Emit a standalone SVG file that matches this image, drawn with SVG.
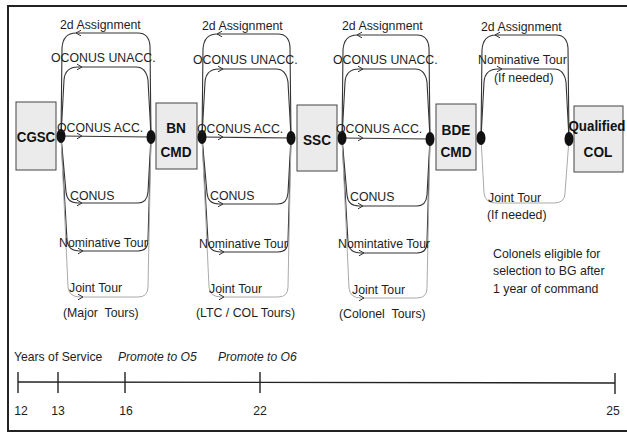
<svg xmlns="http://www.w3.org/2000/svg" width="627" height="433" viewBox="0 0 627 433">
<style>
.t{font-family:"Liberation Sans",Arial,sans-serif;font-size:13.4px;fill:#1e1e1e}
.n{font-family:"Liberation Sans",Arial,sans-serif;font-size:12.2px;fill:#1e1e1e}
.ti{font-family:"Liberation Sans",Arial,sans-serif;font-size:12.1px;fill:#1e1e1e;font-style:italic}
.b{font-family:"Liberation Sans",Arial,sans-serif;font-size:15.5px;font-weight:bold;fill:#111;text-anchor:middle}
.box{fill:#ebebeb;stroke:#444;stroke-width:1}
.ln{fill:none;stroke:#333;stroke-width:1.1}
.lg{fill:none;stroke:#aaa;stroke-width:1}
.dot{fill:#111}
.ax{fill:none;stroke:#222;stroke-width:1.4}
</style>
<defs>
<path id="ar" d="M-3,-2.8 L2,0 L-3,2.8" fill="none" stroke="#333" stroke-width="1"/>
</defs>
<rect x="8" y="6" width="630" height="425" fill="#fff" stroke="#222" stroke-width="2"/>

<g id="connectors">
<!-- section 1 -->
<path class="ln" d="M61,136 L62,48 Q63,33 76,33 L138,33 Q149,33 150,46 L151,136"/>
<path class="ln" d="M61,136 L64,80 Q65,67 78,67 L136,67 Q146,67 148,80 L151,136"/>
<path class="ln" d="M61,136 L151,137"/>
<path class="ln" d="M61,136 L66,192 Q67,203 78,203 L138,203 Q147,203 148,192 L151,137"/>
<path class="ln" d="M61,136 L67,240 Q68,251 80,251 L138,251 Q148,251 148,240 L151,137"/>
<path class="lg" d="M61,136 L68,287 Q69,297 80,297 L138,297 Q148,297 148,287 L151,137"/>
<use href="#ar" transform="translate(78,33) rotate(180)"/>
<use href="#ar" transform="translate(80,67)"/>
<use href="#ar" transform="translate(80,136)"/>
<use href="#ar" transform="translate(80,203)"/>
<use href="#ar" transform="translate(81,251)"/>
<use href="#ar" transform="translate(81,297)"/>
<!-- section 2 -->
<path class="ln" d="M202,137 L203,49 Q204,34 217,34 L278,34 Q289,34 290,47 L291,137"/>
<path class="ln" d="M202,137 L205,82 Q206,69 219,69 L276,69 Q286,69 288,82 L291,137"/>
<path class="ln" d="M202,137 L291,138"/>
<path class="ln" d="M202,137 L207,193 Q208,204 219,204 L278,204 Q287,204 288,193 L291,138"/>
<path class="ln" d="M202,137 L208,241 Q209,252 221,252 L278,252 Q288,252 288,241 L291,138"/>
<path class="lg" d="M202,137 L209,287 Q210,297 221,297 L278,297 Q288,297 288,287 L291,138"/>
<use href="#ar" transform="translate(219,34) rotate(180)"/>
<use href="#ar" transform="translate(221,69)"/>
<use href="#ar" transform="translate(221,137)"/>
<use href="#ar" transform="translate(221,204)"/>
<use href="#ar" transform="translate(222,252)"/>
<use href="#ar" transform="translate(222,297)"/>
<!-- section 3 -->
<path class="ln" d="M342,138 L343,50 Q344,35 357,35 L417,35 Q428,35 429,48 L430,138"/>
<path class="ln" d="M342,138 L345,82 Q346,69 359,69 L415,69 Q425,69 427,82 L430,138"/>
<path class="ln" d="M342,138 L430,139"/>
<path class="ln" d="M342,138 L347,195 Q348,206 359,206 L417,206 Q426,206 427,195 L430,139"/>
<path class="ln" d="M342,138 L348,242 Q349,253 361,253 L417,253 Q427,253 427,242 L430,139"/>
<path class="lg" d="M342,138 L349,288 Q350,298 361,298 L417,298 Q427,298 427,288 L430,139"/>
<use href="#ar" transform="translate(359,35) rotate(180)"/>
<use href="#ar" transform="translate(361,69)"/>
<use href="#ar" transform="translate(361,138)"/>
<use href="#ar" transform="translate(361,206)"/>
<use href="#ar" transform="translate(362,253)"/>
<use href="#ar" transform="translate(362,298)"/>
<!-- section 4 -->
<path class="ln" d="M481,138 L482,50 Q483,35 496,35 L556,35 Q567,35 568,48 L569,139"/>
<path class="ln" d="M481,138 L484,82 Q485,69 498,69 L554,69 Q564,69 566,82 L569,139"/>
<path class="lg" d="M481,138 L484,193 Q485,203 496,203 L554,203 Q565,203 565,193 L569,139"/>
<use href="#ar" transform="translate(497,35) rotate(180)"/>
<use href="#ar" transform="translate(500,69)"/>
</g>

<g id="node-cgsc">
<rect class="box" x="16" y="102" width="40" height="68"/>
<text class="b" transform="translate(36,142) scale(0.86,1)">CGSC</text>
</g>
<g id="node-bncmd">
<rect class="box" x="156" y="103" width="41" height="66"/>
<text class="b" transform="translate(176,133) scale(0.88,1)">BN</text>
<text class="b" transform="translate(176,157) scale(0.88,1)">CMD</text>
</g>
<g id="node-ssc">
<rect class="box" x="297" y="105" width="40" height="66"/>
<text class="b" transform="translate(317,145) scale(0.88,1)">SSC</text>
</g>
<g id="node-bdecmd">
<rect class="box" x="436" y="104" width="40" height="66"/>
<text class="b" transform="translate(456,135) scale(0.88,1)">BDE</text>
<text class="b" transform="translate(456,157) scale(0.88,1)">CMD</text>
</g>
<g id="node-qualified">
<rect class="box" x="574" y="106" width="49" height="66"/>
<text class="b" transform="translate(597,131) scale(0.86,1)">Qualified</text>
<text class="b" transform="translate(598,157) scale(0.88,1)">COL</text>
</g>

<g id="dots">
<ellipse class="dot" cx="61" cy="136" rx="4.5" ry="7"/>
<ellipse class="dot" cx="151" cy="137" rx="4.5" ry="7"/>
<ellipse class="dot" cx="202" cy="137" rx="4.5" ry="7"/>
<ellipse class="dot" cx="291" cy="138" rx="4.5" ry="7"/>
<ellipse class="dot" cx="342" cy="138" rx="4.5" ry="7"/>
<ellipse class="dot" cx="430" cy="139" rx="4.5" ry="7"/>
<ellipse class="dot" cx="481" cy="138" rx="4.5" ry="7"/>
<ellipse class="dot" cx="569" cy="139" rx="4.5" ry="7"/>
</g>

<g id="labels">
<text class="t" transform="translate(60,29) scale(0.92,1)">2d Assignment</text>
<text class="t" transform="translate(51,62) scale(0.92,1)">OCONUS UNACC.</text>
<text class="t" transform="translate(57,132) scale(0.92,1)">OCONUS ACC.</text>
<text class="t" transform="translate(70,200) scale(0.92,1)">CONUS</text>
<text class="t" transform="translate(59,247) scale(0.92,1)">Nominative Tour</text>
<text class="t" transform="translate(69,292) scale(0.92,1)">Joint Tour</text>
<text class="t" transform="translate(63,317) scale(0.92,1)" xml:space="preserve">(Major  Tours)</text>

<text class="t" transform="translate(202,30) scale(0.92,1)">2d Assignment</text>
<text class="t" transform="translate(193,64) scale(0.92,1)">OCONUS UNACC.</text>
<text class="t" transform="translate(197,133) scale(0.92,1)">OCONUS ACC.</text>
<text class="t" transform="translate(210,200) scale(0.92,1)">CONUS</text>
<text class="t" transform="translate(199,248) scale(0.92,1)">Nominative Tour</text>
<text class="t" transform="translate(209,293) scale(0.92,1)">Joint Tour</text>
<text class="t" transform="translate(196,317) scale(0.92,1)">(LTC / COL Tours)</text>

<text class="t" transform="translate(342,30) scale(0.92,1)">2d Assignment</text>
<text class="t" transform="translate(333,64) scale(0.92,1)">OCONUS UNACC.</text>
<text class="t" transform="translate(336,133) scale(0.92,1)">OCONUS ACC.</text>
<text class="t" transform="translate(350,201) scale(0.92,1)">CONUS</text>
<text class="t" transform="translate(338,248) scale(0.92,1)">Nomintative Tour</text>
<text class="t" transform="translate(352,294) scale(0.92,1)">Joint Tour</text>
<text class="t" transform="translate(339,318) scale(0.92,1)" xml:space="preserve">(Colonel  Tours)</text>

<text class="t" transform="translate(481,31) scale(0.92,1)">2d Assignment</text>
<text class="t" transform="translate(478,64) scale(0.92,1)">Nominative Tour</text>
<text class="t" transform="translate(494,82) scale(0.92,1)">(If needed)</text>
<text class="t" transform="translate(488,202) scale(0.92,1)">Joint Tour</text>
<text class="t" transform="translate(487,219) scale(0.92,1)">(If needed)</text>
<text class="t" transform="translate(493,258) scale(0.92,1)">Colonels eligible for</text>
<text class="t" transform="translate(493,275) scale(0.92,1)">selection to BG after</text>
<text class="t" transform="translate(493,293) scale(0.92,1)">1 year of command</text>
</g>

<g id="timeline">
<line class="ax" x1="18" y1="382" x2="615" y2="383"/>
<line class="ax" x1="18" y1="372" x2="18" y2="393"/>
<line class="ax" x1="58" y1="372" x2="58" y2="393"/>
<line class="ax" x1="125" y1="372" x2="125" y2="393"/>
<line class="ax" x1="260" y1="372" x2="260" y2="393"/>
<line class="ax" x1="615" y1="373" x2="615" y2="394"/>
<text class="n" x="14" y="361">Years of Service</text>
<text class="ti" x="118" y="361">Promote to O5</text>
<text class="ti" x="218" y="361">Promote to O6</text>
<text class="n" x="21" y="415" text-anchor="middle">12</text>
<text class="n" x="58" y="415" text-anchor="middle">13</text>
<text class="n" x="126" y="415" text-anchor="middle">16</text>
<text class="n" x="260" y="415" text-anchor="middle">22</text>
<text class="n" x="613" y="415" text-anchor="middle">25</text>
</g>
</svg>
